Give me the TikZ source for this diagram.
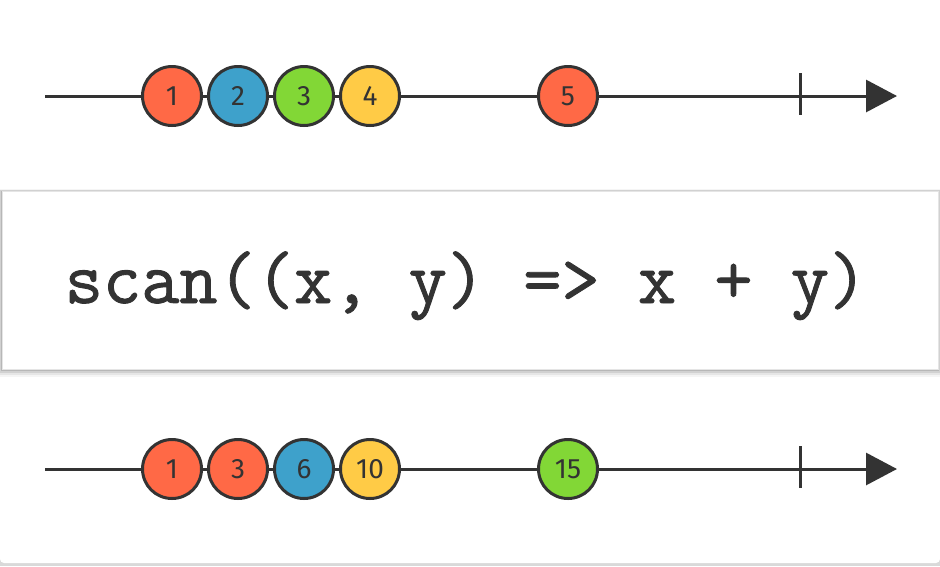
\documentclass[tikz,border=0pt]{standalone}
\usepackage{fontspec}
\setsansfont{Fira Sans}
\newfontfamily\codefont[FakeBold=1.2]{Latin Modern Mono}
\usetikzlibrary{arrows.meta}
\definecolor{ink}{HTML}{333333}
\definecolor{mred}{HTML}{FF6946}
\definecolor{mblue}{HTML}{3EA1CB}
\definecolor{mgreen}{HTML}{82D736}
\definecolor{myellow}{HTML}{FFCB46}
\tikzset{
  marble/.style={circle, draw=ink, line width=3pt, minimum size=59pt, inner sep=0pt,
    font=\sffamily\fontsize{28}{28}\selectfont, text=ink},
  axis/.style={draw=ink, line width=3pt, -{Triangle[length=31pt,width=32pt]}},
  tick/.style={draw=ink, line width=3pt},
}
\begin{document}
\begin{tikzpicture}[x=1pt,y=-1pt]
\useasboundingbox (0,0) rectangle (940,566);
% card background
\fill[gray!30] (0,0) rectangle (940,566);
\fill[white, rounded corners=4pt] (0,-10) rectangle (940,563);
% top stream
\coordinate (a1s) at (45,96);
\coordinate (a1e) at (897,96);
\draw[axis] (a1s) -- (a1e);
\coordinate (t1a) at (800,73);
\coordinate (t1b) at (800,115);
\draw[tick] (t1a) -- (t1b);
\node[marble, fill=mred] (i1) at (172,96) {1};
\node[marble, fill=mblue] (i2) at (238,96) {2};
\node[marble, fill=mgreen] (i3) at (304,96) {3};
\node[marble, fill=myellow] (i4) at (370,96) {4};
\node[marble, fill=mred] (i5) at (568,96) {5};
% operator box with shadow
\foreach \d/\o in {8/0.04,6/0.06,4/0.09,2/0.12}{
  \fill[black, opacity=\o] (2-\d*0.4,191-\d*0.2) rectangle (938+\d*0.4,369+\d);
}
\node[draw=gray!20, line width=0.8pt, fill=white, minimum width=936pt, minimum height=178pt, inner sep=0pt,
  anchor=north west] (op) at (2,191) {};
\node[text=ink, font=\codefont\fontsize{74.2}{74.2}\selectfont, anchor=base] (optext) at (466,303) {scan((x, y) => x + y)};
% bottom stream
\coordinate (a2s) at (45,469);
\coordinate (a2e) at (897,469);
\draw[axis] (a2s) -- (a2e);
\coordinate (t2a) at (800,446);
\coordinate (t2b) at (800,488);
\draw[tick] (t2a) -- (t2b);
\node[marble, fill=mred] (o1) at (172,469) {1};
\node[marble, fill=mred] (o2) at (238,469) {3};
\node[marble, fill=mblue] (o3) at (304,469) {6};
\node[marble, fill=myellow] (o4) at (370,469) {10};
\node[marble, fill=mgreen] (o5) at (568,469) {15};
\end{tikzpicture}
\end{document}
